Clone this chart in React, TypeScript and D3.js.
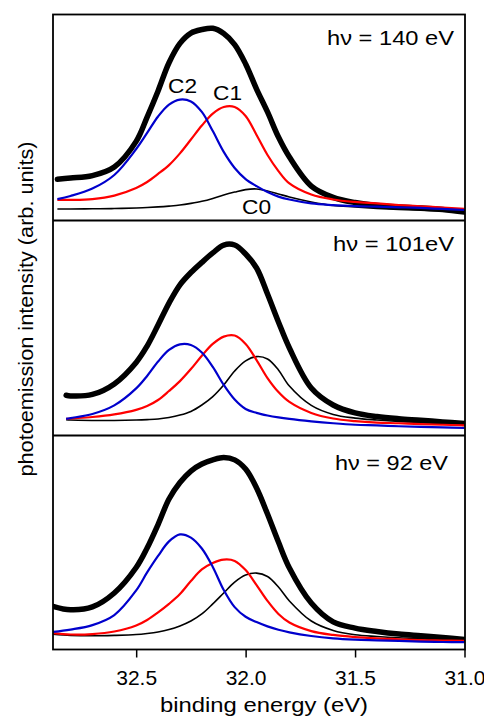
import React, { useRef, useEffect } from 'react';
import * as d3 from 'd3';

// binding energies (eV) shared by all curves; each panel adds its own first point
const energyGrid = [32.8, 32.7, 32.6, 32.5, 32.45, 32.4, 32.35, 32.3, 32.25, 32.2, 32.15, 32.1, 32.05, 32.0,
  31.95, 31.9, 31.85, 31.8, 31.7, 31.6, 31.5, 31.4, 31.3, 31.2, 31.1, 31.0];
const startEnergy = [32.86, 32.82, 32.88];

const photonLabels = ['hν = 140 eV', 'hν = 101eV', 'hν = 92 eV'];
const xTicks = [32.5, 32.0, 31.5, 31.0];

// hv = 140 eV
const data140 = [20.0, 20.6, 21.8, 26.0, 38.4, 50.2, 62.9, 76.6, 86.0, 91.0, 92.7, 93.3, 90.8, 85.4, 76.0, 63.8, 52.7, 40.5, 30.8, 16.7, 11.2, 8.7, 7.3, 6.6, 6.1, 5.3, 4.1];
const c2_140 = [10.4, 11.9, 15.5, 22.1, 34.7, 42.5, 50.5, 56.3, 58.7, 57.8, 52.7, 43.4, 33.3, 25.5, 20.1, 16.7, 13.8, 11.6, 10.2, 8.3, 7.5, 7.0, 6.7, 6.4, 6.1, 5.6, 5.1];
const c1_140 = [10.0, 10.0, 10.4, 12.1, 15.8, 18.7, 22.6, 26.9, 32.6, 39.3, 46.1, 51.9, 55.1, 55.1, 50.7, 41.5, 31.8, 24.0, 18.0, 12.6, 10.2, 9.0, 8.3, 7.5, 6.9, 6.3, 5.6];
const c0_140 = [5.6, 5.6, 5.7, 5.8, 6.1, 6.3, 6.6, 7.0, 7.5, 8.3, 9.3, 10.7, 12.4, 13.8, 15.0, 15.3, 14.3, 12.9, 11.4, 9.0, 7.3, 6.6, 5.9, 5.4, 5.0, 4.6, 4.1];

// hv = 101 eV
const data101 = [18.7, 18.4, 19.1, 24.0, 34.0, 41.6, 51.4, 61.6, 70.1, 75.8, 80.5, 84.9, 88.6, 88.6, 84.4, 77.9, 65.8, 52.8, 40.7, 22.1, 14.2, 10.5, 8.8, 7.8, 7.1, 6.3, 5.6];
const c2_101 = [7.7, 8.1, 10.0, 14.0, 21.9, 27.7, 34.4, 39.8, 42.4, 42.1, 38.6, 31.9, 23.5, 16.7, 12.3, 10.5, 9.3, 8.4, 7.7, 6.6, 5.7, 5.0, 4.7, 4.3, 4.0, 3.8, 3.5];
const c1_101 = [7.7, 7.9, 8.6, 9.8, 11.9, 13.7, 16.5, 20.7, 25.3, 30.9, 37.1, 42.6, 46.0, 46.5, 42.6, 35.1, 26.7, 20.2, 15.6, 10.5, 7.9, 6.7, 6.0, 5.7, 5.3, 5.0, 4.7];
const c0_101 = [7.4, 7.2, 7.0, 7.0, 7.2, 7.4, 7.7, 8.4, 9.5, 11.2, 14.2, 18.1, 23.5, 30.0, 34.7, 36.7, 35.6, 30.5, 23.0, 14.0, 9.8, 8.1, 7.2, 6.5, 6.0, 5.6, 5.0];

// hv = 92 eV
const data92 = [20.2, 18.6, 19.9, 26.4, 38.3, 47.4, 58.4, 70.3, 78.0, 83.4, 86.7, 88.6, 89.7, 88.6, 84.3, 75.5, 63.3, 50.2, 38.1, 21.7, 12.9, 10.0, 8.4, 7.2, 6.4, 5.6, 4.7];
const c2_92 = [8.2, 9.3, 11.4, 16.1, 27.6, 36.0, 43.7, 50.5, 53.8, 52.3, 47.2, 38.6, 27.8, 19.8, 15.3, 12.8, 10.8, 9.2, 8.0, 6.3, 5.2, 4.6, 4.3, 4.0, 3.7, 3.5, 3.4];
const c1_92 = [7.7, 7.0, 7.2, 8.4, 11.2, 13.8, 17.3, 21.3, 25.9, 32.0, 37.4, 40.4, 42.0, 41.4, 37.1, 30.1, 22.7, 16.6, 12.6, 8.6, 6.8, 5.8, 5.2, 4.8, 4.4, 4.2, 4.0];
const c0_92 = [7.2, 6.6, 6.4, 6.6, 7.0, 7.5, 8.2, 9.3, 11.0, 13.3, 16.6, 21.3, 26.4, 31.5, 34.8, 35.7, 34.1, 29.2, 22.7, 13.3, 8.9, 6.9, 6.1, 5.5, 5.1, 4.4, 3.8];

const App = () => {
  const svgRef = useRef(null);

  useEffect(() => {
    const width = 484;
    const height = 719;
    const left = 53;
    const right = 465;
    const edges = [14.5, 220.5, 435.5, 649.5];
    const font = '"Liberation Sans", Arial, Helvetica, sans-serif';

    const svg = d3.select(svgRef.current);
    svg.selectAll('*').remove();
    svg.attr('width', width).attr('height', height).style('font-family', font);

    const x = d3.scaleLinear().domain([32.88, 31.0]).range([left, 464.5]);

    const panels = [
      { spectrum: data140, c0: c0_140, c1: c1_140, c2: c2_140 },
      { spectrum: data101, c0: c0_101, c1: c1_101, c2: c2_101 },
      { spectrum: data92, c0: c0_92, c1: c1_92, c2: c2_92 },
    ];

    // label placement for the photon energy text
    const labelPos = [
      { x: 327, y: 45, len: 127 },
      { x: 333, y: 251, len: 121 },
      { x: 335, y: 470, len: 113 },
    ];

    panels.forEach((p, i) => {
      const top = edges[i];
      const bottom = edges[i + 1];
      const y = d3.scaleLinear().domain([0, 100]).range([bottom, top]);
      const energies = [startEnergy[i], ...energyGrid];

      const line = d3.line()
        .x((d, j) => x(energies[j]))
        .y(d => y(d))
        .curve(d3.curveCatmullRom.alpha(0.5));

      svg.append('clipPath')
        .attr('id', `clip${i}`)
        .append('rect')
        .attr('x', left)
        .attr('y', top)
        .attr('width', right - left)
        .attr('height', bottom - top);

      const g = svg.append('g').attr('clip-path', `url(#clip${i})`);

      g.append('path')
        .datum(p.spectrum)
        .attr('d', line)
        .attr('fill', 'none')
        .attr('stroke', '#000')
        .attr('stroke-width', 5.5)
        .attr('stroke-linecap', 'round')
        .attr('stroke-linejoin', 'round');

      const fits = [
        { vals: p.c0, color: '#000000', w: 1.6 },
        { vals: p.c1, color: '#ff0000', w: 2.2 },
        { vals: p.c2, color: '#0000cc', w: 2.2 },
      ];
      fits.forEach(f => {
        g.append('path')
          .datum(f.vals)
          .attr('d', line)
          .attr('fill', 'none')
          .attr('stroke', f.color)
          .attr('stroke-width', f.w);
      });

      svg.append('text')
        .attr('x', labelPos[i].x)
        .attr('y', labelPos[i].y)
        .attr('textLength', labelPos[i].len)
        .attr('lengthAdjust', 'spacingAndGlyphs')
        .attr('font-size', 20)
        .attr('fill', '#000')
        .text(photonLabels[i]);
    });

    // component labels in the top panel
    const compLabels = [
      { t: 'C2', x: 168, y: 93 },
      { t: 'C1', x: 213, y: 100 },
      { t: 'C0', x: 242, y: 214 },
    ];
    svg.selectAll('.clabel')
      .data(compLabels)
      .enter().append('text')
      .attr('class', 'clabel')
      .attr('x', d => d.x)
      .attr('y', d => d.y)
      .attr('textLength', 29)
      .attr('lengthAdjust', 'spacingAndGlyphs')
      .attr('font-size', 20)
      .text(d => d.t);

    // frame and panel dividers
    svg.append('rect')
      .attr('x', left)
      .attr('y', edges[0])
      .attr('width', right - left)
      .attr('height', edges[3] - edges[0])
      .attr('fill', 'none')
      .attr('stroke', '#000')
      .attr('stroke-width', 1.8);

    svg.selectAll('.divider')
      .data([edges[1], edges[2]])
      .enter().append('line')
      .attr('class', 'divider')
      .attr('x1', left)
      .attr('x2', right)
      .attr('y1', d => d)
      .attr('y2', d => d)
      .attr('stroke', '#000')
      .attr('stroke-width', 1.8);

    // x axis
    const axis = svg.append('g')
      .attr('transform', `translate(0,${edges[3]})`)
      .call(d3.axisBottom(x).tickValues(xTicks).tickFormat(d3.format('.1f')).tickSize(8).tickSizeOuter(0));
    axis.select('.domain').remove();
    axis.selectAll('line').attr('stroke', '#000').attr('stroke-width', 1.5);
    axis.selectAll('text')
      .attr('y', 35.5)
      .attr('dy', 0)
      .attr('font-size', 21)
      .attr('font-family', font)
      .attr('fill', '#000');

    svg.append('text')
      .attr('x', 264)
      .attr('y', 712)
      .attr('text-anchor', 'middle')
      .attr('font-size', 21)
      .attr('textLength', 208)
      .attr('lengthAdjust', 'spacingAndGlyphs')
      .text('binding energy (eV)');

    svg.append('text')
      .attr('transform', 'translate(33,309) rotate(-90)')
      .attr('text-anchor', 'middle')
      .attr('font-size', 21)
      .attr('textLength', 335)
      .attr('lengthAdjust', 'spacingAndGlyphs')
      .text('photoemission intensity (arb. units)');
  }, []);

  return (
    <svg ref={svgRef} style={{ position: 'absolute', left: 0, top: 0 }}></svg>
  );
};

export default App;
